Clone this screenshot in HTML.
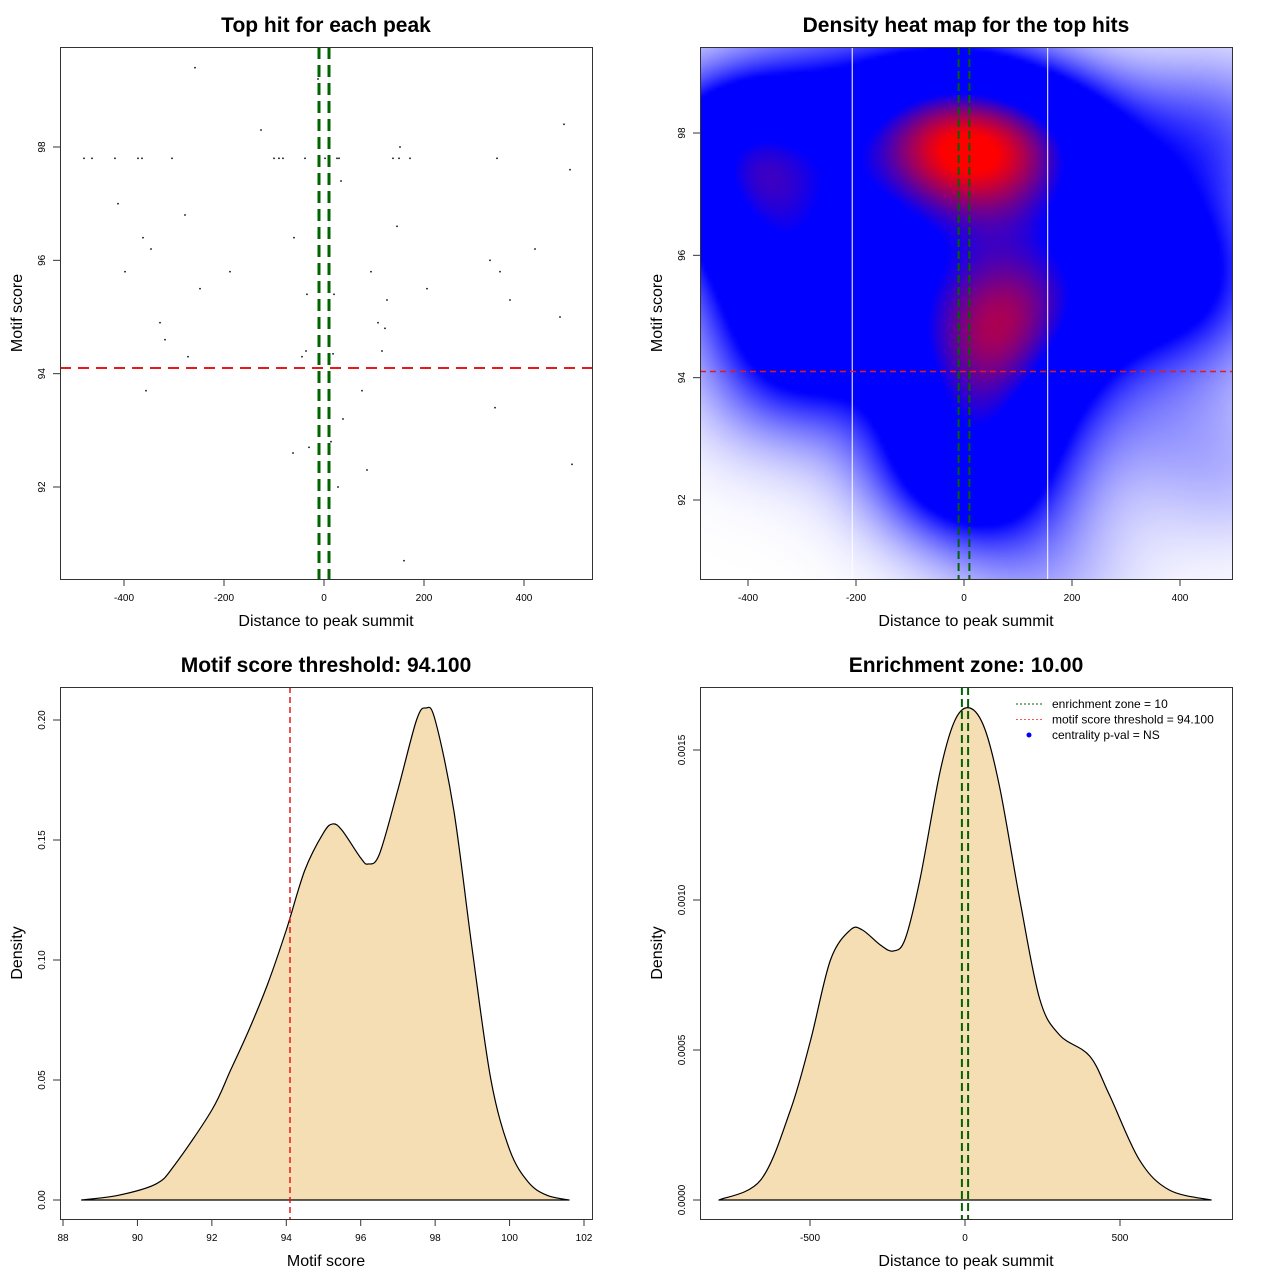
<!DOCTYPE html>
<html><head><meta charset="utf-8">
<style>
body{margin:0;background:#fff;width:1280px;height:1280px;overflow:hidden;position:relative;font-family:"Liberation Sans",sans-serif}
svg{position:absolute;left:0;top:0}
#heat{position:absolute;left:700px;top:47px;width:532px;height:532px}
</style></head><body>
<canvas id="heat" width="133" height="133"></canvas>
<svg id="s" width="1280" height="1280"></svg>
<script>
// ---- data ----
const hitX=[-480,-464,-418,-372,-364,-304,-258,-126,-412,-278,-362,-346,-398,-188,-248,-328,-318,-272,-356,-100,-90,-82,-38,2,26,30,138,150,172,346,152,480,492,34,146,-60,422,332,352,94,206,-34,20,126,372,108,472,122,116,-36,-44,18,76,342,38,-30,14,86,28,496,160,-12,-62];
const hitY=[97.8,97.8,97.8,97.8,97.8,97.8,99.4,98.3,97.0,96.8,96.4,96.2,95.8,95.8,95.5,94.9,94.6,94.3,93.7,97.8,97.8,97.8,97.8,97.8,97.8,97.8,97.8,97.8,97.8,97.8,98.0,98.4,97.6,97.4,96.6,96.4,96.2,96.0,95.8,95.8,95.5,95.4,95.4,95.3,95.3,94.9,95.0,94.8,94.4,94.4,94.3,94.35,93.7,93.4,93.2,92.7,92.8,92.3,92.0,92.4,90.7,99.2,92.6];
const threshold=94.1, zone=10;
const scoreX=[88.5,89.5,90.5,91,92,92.5,93,93.5,94,94.5,95,95.25,95.5,96,96.2,96.5,97,97.5,97.75,98,98.5,99,99.5,100,100.5,101,101.6];
const scoreD=[0,0.002,0.0067,0.0146,0.0375,0.054,0.071,0.09,0.1125,0.1375,0.153,0.1567,0.154,0.1425,0.14,0.144,0.171,0.2,0.205,0.2,0.1625,0.104,0.05,0.021,0.0075,0.002,0];
const distX=[-794,-659,-563,-498,-434,-370,-331,-273,-231,-193,-145,-80,-32,16,64,113,177,241,305,402,466,563,659,794];
const distD=[0,0.0000667,0.0003,0.000533,0.0008,0.0009,0.0009,0.00085,0.00083,0.00087,0.00107,0.00143,0.0016,0.00164,0.00157,0.00137,0.001,0.00067,0.00055,0.00048,0.00035,0.000133,0.0000333,0];
const xt1=[-400,-200,0,200,400], yt1=[92,94,96,98];
const xt3=[88,90,92,94,96,98,100,102], yt3=[0,0.05,0.10,0.15,0.20], yl3=["0.00","0.05","0.10","0.15","0.20"];
const xt4=[-500,0,500], yt4=[0,0.0005,0.001,0.0015], yl4=["0.0000","0.0005","0.0010","0.0015"];
const heatLines=[-207,155];

const NS="http://www.w3.org/2000/svg", S=document.getElementById('s');
function el(t,a,p){const e=document.createElementNS(NS,t);for(const k in a)e.setAttribute(k,a[k]);(p||S).appendChild(e);return e;}
function lin(d0,d1,p0,p1){return v=>p0+(v-d0)*(p1-p0)/(d1-d0);}
function smooth(P){let d='M'+P[0][0]+','+P[0][1];
  for(let i=0;i<P.length-1;i++){const p0=P[Math.max(0,i-1)],p1=P[i],p2=P[i+1],p3=P[Math.min(P.length-1,i+2)];
    const c1=[p1[0]+(p2[0]-p0[0])/6,p1[1]+(p2[1]-p0[1])/6],c2=[p2[0]-(p3[0]-p1[0])/6,p2[1]-(p3[1]-p1[1])/6];
    d+=`C${c1[0]},${c1[1]} ${c2[0]},${c2[1]} ${p2[0]},${p2[1]}`;}
  return d+'Z';}
function frame(L,T,title,xlab,ylab,name){
  const t=el('text',{x:L+266,y:T-15,'text-anchor':'middle','font-size':21,'font-weight':'bold'});t.textContent=title;
  
  const a=el('text',{x:L+266,y:T+532+47,'text-anchor':'middle','font-size':16});a.textContent=xlab;
  
  const b=el('text',{x:0,y:0,'text-anchor':'middle','font-size':16,transform:`translate(${L-38},${T+266}) rotate(-90)`});b.textContent=ylab;
  
}
function box(L,T,name){const r=el('rect',{x:L+.5,y:T+.5,width:532,height:532,fill:'none',stroke:'#333','stroke-width':1});
  }
function axes(L,T,xs,ys,xt,yt,xl,yl,name){
  const B=T+532;
  const gx=el('g',{});
  el('line',{x1:xs(xt[0]),x2:xs(xt[xt.length-1]),y1:B+.5,y2:B+.5,stroke:'#333'},gx);
  xt.forEach((v,i)=>{const x=xs(v);el('line',{x1:x,x2:x,y1:B,y2:B+7,stroke:'#333'},gx);
    const t=el('text',{x:x,y:B+22,'text-anchor':'middle','font-size':10},gx);t.textContent=xl?xl[i]:v;});
  const gy=el('g',{});
  el('line',{x1:L+.5,x2:L+.5,y1:ys(yt[0]),y2:ys(yt[yt.length-1]),stroke:'#333'},gy);
  yt.forEach((v,i)=>{const y=ys(v);el('line',{x1:L-7,x2:L,y1:y,y2:y,stroke:'#333'},gy);
    const t=el('text',{x:0,y:0,'text-anchor':'middle','font-size':10,transform:`translate(${L-15},${y}) rotate(-90)`},gy);t.textContent=yl?yl[i]:v;});
}
// ---- panel 1 ----
{const L=60,T=47,xs=lin(0,400,324,524),ys=lin(98,92,147,487);
 frame(L,T,'Top hit for each peak','Distance to peak summit','Motif score','scatter');
 axes(L,T,xs,ys,xt1,yt1,null,null,'scatter');
 const g=el('g',{});
 hitX.forEach((x,i)=>{const c=el('rect',{x:xs(x)-.75,y:ys(hitY[i])-.75,width:1.5,height:1.5,fill:'#000'},g);
   });
 const h=el('line',{x1:L,x2:L+532,y1:ys(threshold),y2:ys(threshold),stroke:'#e41a1c','stroke-width':2,'stroke-dasharray':'11,7'});
 
 [-zone,zone].forEach(z=>{const v=el('line',{x1:xs(z),x2:xs(z),y1:T,y2:T+532,stroke:'#006400','stroke-width':3,'stroke-dasharray':'12,6'});
   });
 box(L,T,'scatter');}
// ---- panel 2 ----
{const L=700,T=47,xs=lin(0,400,964,1180),ys=lin(98,92,133,500);
 frame(L,T,'Density heat map for the top hits','Distance to peak summit','Motif score','heatmap');
 const cv=document.getElementById('heat'),cx=cv.getContext('2d'),N=133,img=cx.createImageData(N,N);
 const bx=120,by=0.95;const D=[];let mx=0;
 for(let j=0;j<N;j++)for(let i=0;i<N;i++){
   const px=L+(i+.5)*4, py=T+(j+.5)*4;
   const X=(px-964)/(216/400), Y=98-(py-133)/(367/6);
   let d=0;hitX.forEach((hx,k)=>{const a=(X-hx)/bx,b=(Y-hitY[k])/by;d+=Math.exp(-.5*(a*a+b*b));});
   D.push(d);if(d>mx)mx=d;}
 D.forEach((d,k)=>{const t=d/mx;let r,g,b;
   if(t<0.34){const u=Math.pow(t/0.34,1.2);r=255*(1-u);g=255*(1-u);b=255;}
   else if(t<0.7){r=0;g=0;b=255;}
   else{const u=Math.min(1,(t-0.7)/0.27);r=255*u;g=0;b=255*(1-u);}
   img.data[k*4]=r;img.data[k*4+1]=g;img.data[k*4+2]=b;img.data[k*4+3]=255;});
 cx.putImageData(img,0,0);
 axes(L,T,xs,ys,xt1,yt1,null,null,'heatmap');
 heatLines.forEach(v=>{const l=el('line',{x1:xs(v),x2:xs(v),y1:T,y2:T+532,stroke:'#fff','stroke-width':1});
   });
 const h=el('line',{x1:L,x2:L+532,y1:ys(threshold),y2:ys(threshold),stroke:'#e41a1c','stroke-width':1.5,'stroke-dasharray':'6,4'});
 
 [-zone,zone].forEach(z=>{const v=el('line',{x1:xs(z),x2:xs(z),y1:T,y2:T+532,stroke:'#006400','stroke-width':2,'stroke-dasharray':'8,4'});
   });
 box(L,T,'heatmap');}
// ---- panel 3 ----
{const L=60,T=687,xs=lin(88,102,63,584),ys=lin(0,0.2,1200,720);
 frame(L,T,'Motif score threshold: 94.100','Motif score','Density','score-density');
 axes(L,T,xs,ys,xt3,yt3,null,yl3,'score-density');
 const p=el('path',{d:smooth(scoreX.map((x,i)=>[xs(x),ys(scoreD[i])])),fill:'#f5deb3',stroke:'#000','stroke-width':1.2,'stroke-linejoin':'round'});
 
 const v=el('line',{x1:xs(threshold),x2:xs(threshold),y1:T,y2:T+532,stroke:'#e41a1c','stroke-width':1.5,'stroke-dasharray':'6,4'});
 
 box(L,T,'score-density');}
// ---- panel 4 ----
{const L=700,T=687,xs=lin(0,500,965,1120),ys=lin(0,0.0015,1200,750);
 frame(L,T,'Enrichment zone: 10.00','Distance to peak summit','Density','distance-density');
 axes(L,T,xs,ys,xt4,yt4,null,yl4,'distance-density');
 const p=el('path',{d:smooth(distX.map((x,i)=>[xs(x),ys(distD[i])])),fill:'#f5deb3',stroke:'#000','stroke-width':1.2,'stroke-linejoin':'round'});
 
 [-zone,zone].forEach(z=>{const v=el('line',{x1:xs(z),x2:xs(z),y1:T,y2:T+532,stroke:'#006400','stroke-width':2,'stroke-dasharray':'8,4'});
   });
 const lg=el('g',{});
 const items=[['enrichment zone = 10','#006400','line'],['motif score threshold = 94.100','#ff5555','line'],['centrality p-val = NS','#0000ff','dot']];
 items.forEach((it,i)=>{const y=704+i*15.5;
   if(it[2]=='line')el('line',{x1:1016,x2:1042,y1:y,y2:y,stroke:it[1],'stroke-dasharray':'2,2'},lg);
   else el('circle',{cx:1029,cy:y,r:2.5,fill:it[1]},lg);
   const t=el('text',{x:1052,y:y+4,'font-size':12},lg);t.textContent=it[0];});
 box(L,T,'distance-density');}
</script>
</body></html>
